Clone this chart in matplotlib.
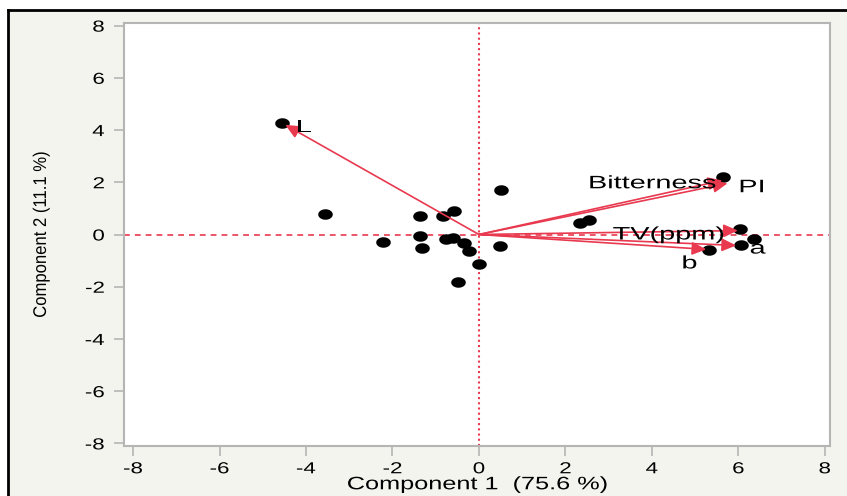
import numpy as np
import matplotlib
matplotlib.use("Agg")
import matplotlib.pyplot as plt
from matplotlib.path import Path
from matplotlib.lines import Line2D
from matplotlib.patheffects import AbstractPathEffect
from matplotlib.transforms import Affine2D

plt.rcParams['font.family'] = ['Liberation Sans', 'DejaVu Sans']

# Scores (black points)
score_x = [-4.56, 0.52, -3.56, -1.36, -0.84, -0.58, -2.21, -1.36, -1.32, -0.76,
           -0.61, -0.34, -0.22, 0.01, -0.48, 0.48, 5.64, 2.33, 2.55, 6.03, 6.37, 6.07, 5.33]
score_y = [4.26, 1.69, 0.77, 0.69, 0.69, 0.89, -0.29, -0.04, -0.50, -0.18,
           -0.15, -0.32, -0.64, -1.12, -1.83, -0.45, 2.22, 0.43, 0.56, 0.22, -0.17, -0.42, -0.59]

# Loadings (red arrows)
load_names = ["L", "Bitterness", "PI", "TV(ppm)", "a", "b"]
load_x = [-4.48, 5.63, 5.75, 5.99, 5.95, 5.26]
load_y = [4.20, 2.07, 1.96, 0.15, -0.42, -0.57]

x_ticks = [-8, -6, -4, -2, 0, 2, 4, 6, 8]
y_ticks = [-8, -6, -4, -2, 0, 2, 4, 6, 8]

RED = '#e8394f'
BG = '#f4f4ef'


class HStretch(AbstractPathEffect):
    """Stretch rendered glyphs horizontally about an anchor side."""
    def __init__(self, sx, anchor='center'):
        super().__init__()
        self.sx = sx
        self.anchor = anchor

    def draw_path(self, renderer, gc, tpath, affine, rgbFace=None):
        ext = tpath.get_extents(affine)
        if self.anchor == 'left':
            x0 = ext.x0
        elif self.anchor == 'right':
            x0 = ext.x1
        else:
            x0 = 0.5 * (ext.x0 + ext.x1)
        aff = affine + Affine2D().translate(-x0, 0).scale(self.sx, 1).translate(x0, 0)
        renderer.draw_path(gc, tpath, aff, rgbFace)


fig = plt.figure(figsize=(8.47, 4.96), dpi=100)
fig.patch.set_facecolor('white')
fig.patches.append(plt.Rectangle((8/847, 0), 1, 1 - 10/496, transform=fig.transFigure,
                                 facecolor=BG, edgecolor='none', zorder=-10))
fig.lines.append(Line2D([8/847, 1], [1 - 10/496, 1 - 10/496], transform=fig.transFigure,
                        color='black', lw=2))
fig.lines.append(Line2D([8/847, 8/847], [0, 1 - 10/496], transform=fig.transFigure,
                        color='black', lw=2))

ax = fig.add_axes([124/847, 1 - 446/496, (830 - 124)/847, (446 - 23)/496])
ax.set_facecolor('white')
ax.set_xlim(-8.21, 8.12)
ax.set_ylim(-8.1, 8.1)

for s in ax.spines.values():
    s.set_color('#b5b5b5')
    s.set_linewidth(1.5)

ax.axhline(0, color=RED, lw=1.2, ls=(0, (3.5, 3)), zorder=1)
ax.axvline(0, color=RED, lw=1.5, ls=(0, (1, 1.5)), zorder=1)

t = np.linspace(0, 2 * np.pi, 60)
ell = Path(np.column_stack([np.cos(t), 0.72 * np.sin(t)]), closed=True)
ax.scatter(score_x, score_y, marker=ell, s=110, color='black', zorder=3, linewidths=0)

for nx, ny in zip(load_x, load_y):
    ax.annotate("", xy=(nx, ny), xytext=(0, 0),
                arrowprops=dict(arrowstyle='-|>,head_length=0.62,head_width=0.28', color=RED,
                                lw=1.2, shrinkA=0, shrinkB=0, mutation_scale=14),
                zorder=4)

fs = 13
lab_pos = {
    "L": (-4.22, 3.92, 'left'),
    "Bitterness": (5.48, 1.77, 'right'),
    "PI": (6.02, 1.62, 'left'),
    "TV(ppm)": (5.67, -0.19, 'right'),
    "a": (6.27, -0.73, 'left'),
    "b": (4.70, -1.30, 'left'),
}
for name in load_names:
    px, py, ha = lab_pos[name]
    ax.text(px, py, name, fontsize=fs, va='baseline', ha=ha, zorder=5,
            path_effects=[HStretch(1.6, ha)])

ax.set_xticks(x_ticks)
ax.set_yticks(y_ticks)
ax.set_xticklabels([str(v) for v in x_ticks])
ax.set_yticklabels([str(v) for v in y_ticks])
ax.tick_params(axis='both', which='both', direction='out', length=7, width=1.2,
               color='#b5b5b5', labelsize=11.5, pad=3)
ax.tick_params(axis='y', pad=7)
ax.tick_params(axis='x', pad=4)
for tk, v in zip(ax.xaxis.get_major_ticks(), x_ticks):
    if v == 0:
        tk.tick1line.set_color(RED)
for tk, v in zip(ax.yaxis.get_major_ticks(), y_ticks):
    if v == 0:
        tk.tick1line.set_color(RED)
for lbl in ax.get_xticklabels():
    lbl.set_path_effects([HStretch(1.4, 'center')])
for lbl in ax.get_yticklabels():
    lbl.set_path_effects([HStretch(1.4, 'right')])

xl = ax.set_xlabel("Component 1  (75.6 %)", fontsize=13, labelpad=0)
xl.set_path_effects([HStretch(1.4, 'center')])
yl = ax.set_ylabel("Component 2 (11.1 %)", fontsize=12, labelpad=30)
yl.set_path_effects([HStretch(1.1, 'center')])

fig.savefig("out.png", dpi=100, facecolor=fig.get_facecolor())
